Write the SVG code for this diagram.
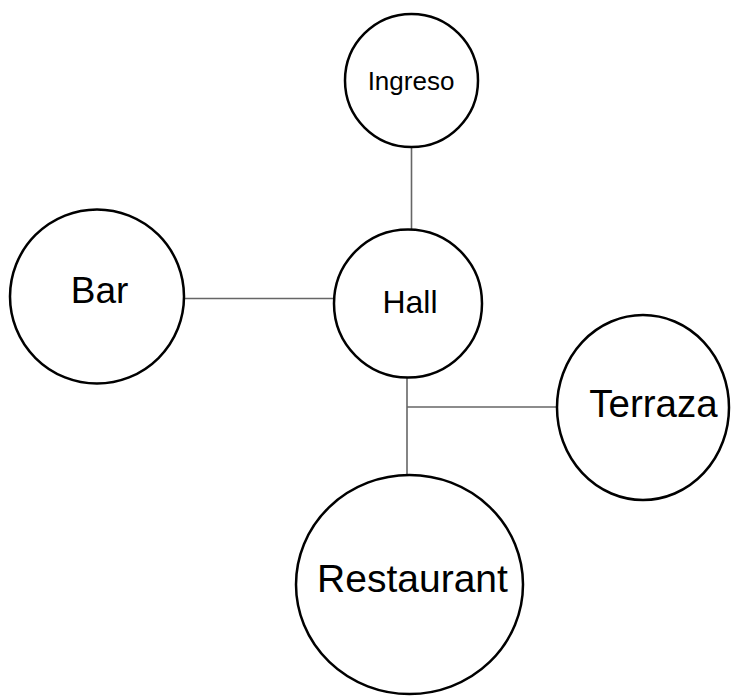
<svg xmlns="http://www.w3.org/2000/svg" width="732" height="696" viewBox="0 0 732 696">
  <style>
    .node circle, .node ellipse { fill: #ffffff; stroke: #000000; stroke-width: 2.5; }
    .node text { font-family: "Liberation Sans", Arial, sans-serif; fill: #000000; text-anchor: middle; }
    .link { stroke: #666666; stroke-width: 1.6; fill: none; }
  </style>
  <rect width="732" height="696" fill="#ffffff"/>
  <g id="connectors">
    <line class="link" x1="411.5" y1="147" x2="411.5" y2="230"/>
    <line class="link" x1="184" y1="298.5" x2="334" y2="298.5"/>
    <line class="link" x1="407" y1="377" x2="407" y2="475"/>
    <line class="link" x1="407" y1="407" x2="557" y2="407"/>
  </g>
  <g id="ingreso" class="node">
    <circle cx="411.5" cy="80.5" r="66.5"/>
    <text x="411" y="90" font-size="26">Ingreso</text>
  </g>
  <g id="bar" class="node">
    <circle cx="97" cy="296.5" r="87"/>
    <text x="99.5" y="303" font-size="37">Bar</text>
  </g>
  <g id="hall" class="node">
    <circle cx="408" cy="303.5" r="74"/>
    <text x="410" y="313" font-size="32">Hall</text>
  </g>
  <g id="terraza" class="node">
    <ellipse cx="643" cy="407.5" rx="86" ry="92.5"/>
    <text x="653.5" y="417" font-size="38.5">Terraza</text>
  </g>
  <g id="restaurant" class="node">
    <ellipse cx="409.5" cy="584.5" rx="113.5" ry="109.5"/>
    <text x="412.5" y="592" font-size="39">Restaurant</text>
  </g>
</svg>
